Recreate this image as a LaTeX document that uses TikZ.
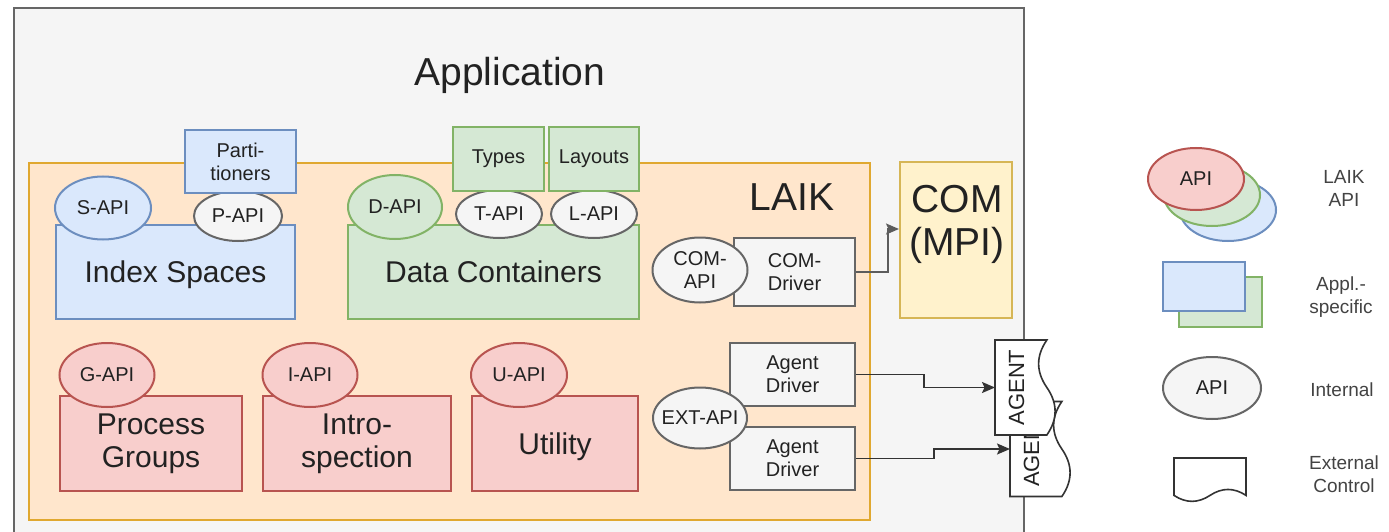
\documentclass[tikz,border=0pt]{standalone}
\usepackage{fontspec}
\setmainfont{Liberation Sans}
\usetikzlibrary{shapes.geometric,arrows.meta}

\definecolor{appfill}{HTML}{F5F5F5}
\definecolor{appline}{HTML}{666666}
\definecolor{laikfill}{HTML}{FFE6CC}
\definecolor{laikline}{HTML}{E0A830}
\definecolor{comfill}{HTML}{FFF2CC}
\definecolor{comline}{HTML}{D6B656}
\definecolor{bluefill}{HTML}{DAE8FC}
\definecolor{blueline}{HTML}{6C8EBF}
\definecolor{greenfill}{HTML}{D5E8D4}
\definecolor{greenline}{HTML}{82B366}
\definecolor{redfill}{HTML}{F8CECC}
\definecolor{redline}{HTML}{B85450}
\definecolor{intfill}{HTML}{F5F5F5}
\definecolor{intline}{HTML}{666666}
\definecolor{ink}{HTML}{222222}
\definecolor{wirecol}{HTML}{333333}

\newcommand\fsHuge{\fontsize{39}{43}\selectfont}
\newcommand\fsBig{\fontsize{30}{33}\selectfont}
\newcommand\fsSmall{\fontsize{20}{23}\selectfont}
\newcommand\fsAgent{\fontsize{22}{24}\selectfont}
\newcommand\fsLegend{\fontsize{19}{23}\selectfont}

\begin{document}
\begin{tikzpicture}[x=1pt,y=-1pt,
  rbox/.style={rectangle, inner sep=0pt, line width=2pt, align=center, text=ink},
  api/.style={ellipse, inner sep=0pt, line width=2pt, align=center, text=ink, font=\fsSmall},
  bluepart/.style={draw=blueline, fill=bluefill},
  greenpart/.style={draw=greenline, fill=greenfill},
  redpart/.style={draw=redline, fill=redfill},
  intpart/.style={draw=intline, fill=intfill},
  doc/.style={draw=wirecol, fill=white, line width=1.6pt},
  conn/.style={draw=wirecol, line width=1.7pt, -{Stealth[length=13pt,width=11pt,inset=2.5pt]}},
  lbl/.style={inner sep=0pt, align=center, text=ink},
  legtxt/.style={inner sep=0pt, align=center, text=ink!85, font=\fsLegend}]

\useasboundingbox (0,0) rectangle (1389,532);
\clip (0,0) rectangle (1389,532);
\fill[white] (0,0) rectangle (1389,532);

% application frame (runs past the lower edge)
\node[rbox, draw=appline, fill=appfill, line width=2.2pt,
      minimum width=1010pt, minimum height=560pt] (app) at (519,288) {};
\node[lbl, font=\fsHuge] (apptitle) at (510,75) {Application};

% LAIK frame
\node[rbox, draw=laikline, fill=laikfill, line width=2.4pt,
      minimum width=841pt, minimum height=357pt] (laik) at (449.5,341.5) {};
\node[lbl, font=\fsHuge] (laiktitle) at (792,197.5) {LAIK};

% communication backend
\node[rbox, draw=comline, fill=comfill, minimum width=112pt, minimum height=156pt] (com) at (956,240) {};
\node[lbl, font=\fsHuge] (comtxt) at (957,224) {COM\\(MPI)};

% index spaces
\node[rbox, bluepart, font=\fsBig, text depth=0pt, minimum width=239pt, minimum height=94pt] (idx) at (175.5,272) {Index Spaces};
\node[api, bluepart, minimum width=96pt, minimum height=63pt] (sapi) at (103,208) {S-API};
\node[api, intpart, minimum width=88pt, minimum height=50pt] (papi) at (238,216) {P-API};
\node[rbox, bluepart, font=\fsSmall, minimum width=111pt, minimum height=63pt] (part) at (240.5,161.5) {Parti-\\tioners};

% data containers
\node[rbox, greenpart, font=\fsBig, text depth=0pt, minimum width=291pt, minimum height=94pt] (data) at (493.5,272) {Data Containers};
\node[api, greenpart, minimum width=94pt, minimum height=64pt] (dapi) at (395,207) {D-API};
\node[api, intpart, minimum width=86pt, minimum height=48pt] (tapi) at (499,214) {T-API};
\node[api, intpart, minimum width=86pt, minimum height=48pt] (lapi) at (594,214) {L-API};
\node[rbox, greenpart, font=\fsSmall, minimum width=91pt, minimum height=64pt] (types) at (498.5,159) {Types};
\node[rbox, greenpart, font=\fsSmall, minimum width=90pt, minimum height=64pt] (layouts) at (594,159) {Layouts};

% process groups, introspection, utility
\node[rbox, redpart, font=\fsBig, minimum width=182pt, minimum height=95pt] (pg) at (151,443.5) {Process\\Groups};
\node[api, redpart, minimum width=95pt, minimum height=64pt] (gapi) at (107,375) {G-API};
\node[rbox, redpart, font=\fsBig, minimum width=188pt, minimum height=95pt] (intro) at (357,443.5) {Intro-\\spection};
\node[api, redpart, minimum width=95pt, minimum height=64pt] (iapi) at (310,375) {I-API};
\node[rbox, redpart, font=\fsBig, text depth=0pt, minimum width=166pt, minimum height=95pt] (util) at (555,443.5) {Utility};
\node[api, redpart, minimum width=96pt, minimum height=64pt] (uapi) at (519,375) {U-API};

% drivers
\node[rbox, intpart, font=\fsSmall, minimum width=121pt, minimum height=68pt] (comdrv) at (794.5,272) {COM-\\Driver};
\node[api, intpart, minimum width=95pt, minimum height=65pt] (comapi) at (700,270) {COM-\\API};
\node[rbox, intpart, font=\fsSmall, minimum width=125pt, minimum height=63pt] (ad1) at (792.5,374.5) {Agent\\Driver};
\node[rbox, intpart, font=\fsSmall, minimum width=125pt, minimum height=63pt] (ad2) at (792.5,458.5) {Agent\\Driver};
\node[api, intpart, inner xsep=-15pt, minimum width=94pt, minimum height=61pt] (extapi) at (700,418) {EXT-API};

% external agents (lower one drawn first, upper one overlaps it)
\begin{scope}[shift={(1010,401.5)}]
  \path[doc] (0,95) -- (0,0) -- (51.85,0)
    .. controls (40.88,15.83) and (40.88,31.67) .. (51.85,47.5)
    .. controls (62.82,63.33) and (62.82,79.17) .. (51.85,95) -- cycle;
\end{scope}
\node[lbl, rotate=90, font=\fsAgent, minimum width=95pt, minimum height=42.7pt, anchor=north] (ag2) at (1010,449) {AGENT};
\begin{scope}[shift={(995,340)}]
  \path[doc] (0,95) -- (0,0) -- (51.85,0)
    .. controls (40.88,15.83) and (40.88,31.67) .. (51.85,47.5)
    .. controls (62.82,63.33) and (62.82,79.17) .. (51.85,95) -- cycle;
\end{scope}
\node[lbl, rotate=90, font=\fsAgent, minimum width=95pt, minimum height=42.7pt, anchor=north] (ag1) at (995,387.5) {AGENT};

% connectors
\draw[conn, draw=wirecol!80] (comdrv.east) -- ++(32,0) |- ([yshift=11pt]com.west);
\draw[conn] (ad1.east) -- ++(68,0) |- (ag1.north);
\draw[conn] (ad2.east) -- ++(78,0) |- (ag2.north);

% legend
\node[api, bluepart, minimum width=96pt, minimum height=62pt] (legb) at (1228,210) {};
\node[api, greenpart, minimum width=96pt, minimum height=62pt] (legg) at (1212,195) {};
\node[api, redpart, minimum width=96pt, minimum height=62pt] (legr) at (1196,179) {API};
\node[legtxt] (legapi) at (1344,188) {LAIK\\API};

\node[rbox, greenpart, minimum width=83pt, minimum height=50pt] (legrg) at (1220.5,302) {};
\node[rbox, bluepart, minimum width=82pt, minimum height=49pt] (legrb) at (1204,286.5) {};
\node[legtxt] (legappl) at (1341,297) {Appl.-\\specific};

\node[api, intpart, minimum width=98pt, minimum height=62pt] (legint) at (1212,388) {API};
\node[legtxt] (legintt) at (1342,390) {Internal};

\begin{scope}[shift={(1174,458)}]
  \path[doc] (0,0) -- (72,0) -- (72,37.4)
    .. controls (60,29.48) and (48,29.48) .. (36,37.4)
    .. controls (24,45.32) and (12,45.32) .. (0,37.4) -- cycle;
\end{scope}
\node[legtxt] (legext) at (1344,474) {External\\Control};

\end{tikzpicture}
\end{document}
